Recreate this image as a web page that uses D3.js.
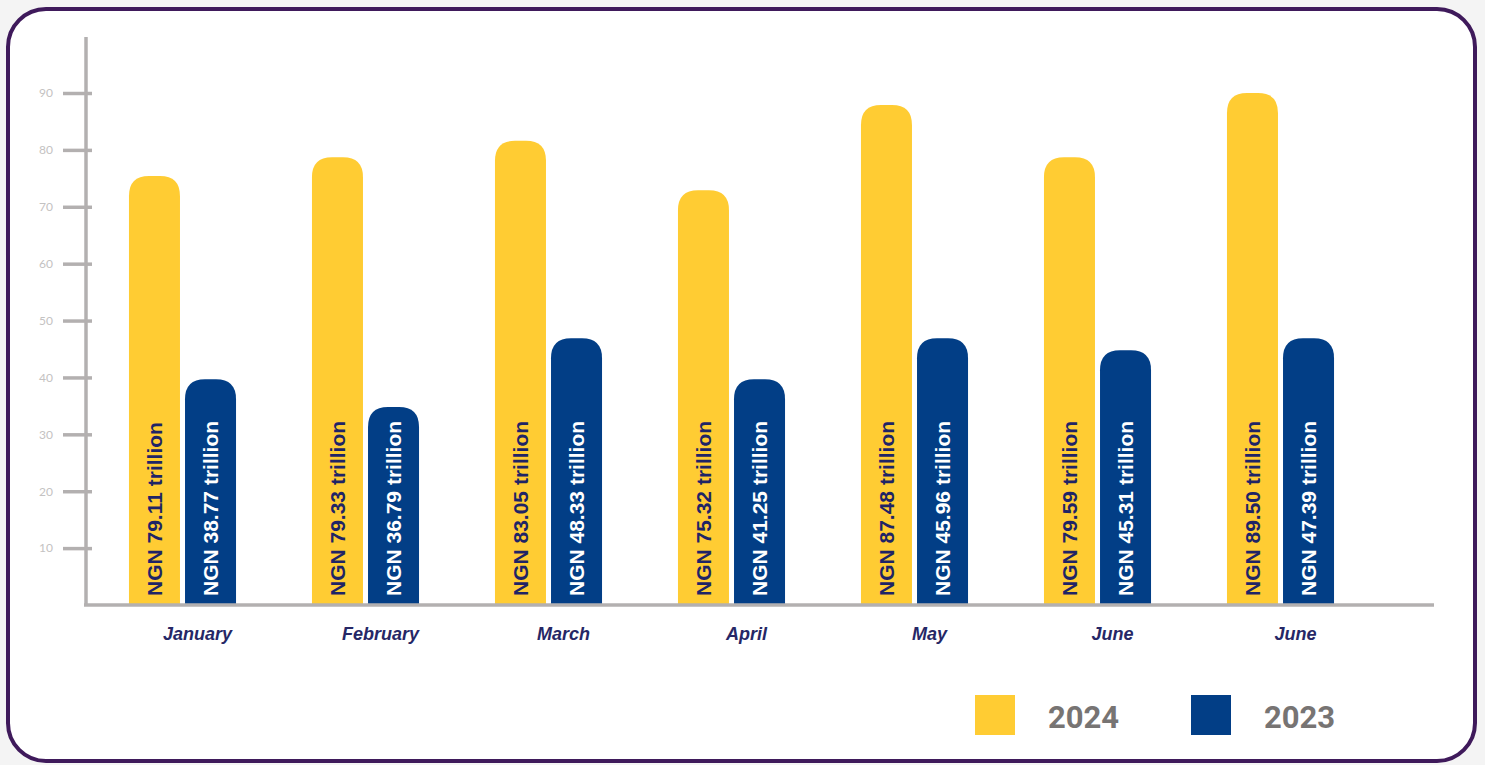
<!DOCTYPE html>
<html>
<head>
<meta charset="utf-8">
<script src="https://cdn.jsdelivr.net/npm/d3@7"></script>
<style>
  html, body { margin: 0; padding: 0; background: #f4f4f4; }
  svg { display: block; }
</style>
</head>
<body>
<div class="chart"></div>
<script>
// months (the source repeats "June" for the last group)
const months = ["January", "February", "March", "April", "May", "June", "June"];
const series = ["2024", "2023"];
// bar heights as drawn in the picture
const values2024 = [75.4, 78.7, 81.6, 72.9, 87.9, 78.7, 90.0];
const values2023 = [39.7, 34.8, 46.9, 39.7, 46.9, 44.8, 46.9];
// labels printed inside the bars
const labels2024 = ["NGN 79.11 trillion", "NGN 79.33 trillion", "NGN 83.05 trillion", "NGN 75.32 trillion", "NGN 87.48 trillion", "NGN 79.59 trillion", "NGN 89.50 trillion"];
const labels2023 = ["NGN 38.77 trillion", "NGN 36.79 trillion", "NGN 48.33 trillion", "NGN 41.25 trillion", "NGN 45.96 trillion", "NGN 45.31 trillion", "NGN 47.39 trillion"];
const yTicks = [10, 20, 30, 40, 50, 60, 70, 80, 90];

const width = 1485, height = 765;
const colors = {"2024": "#ffcc33", "2023": "#023e86"};
const textColors = {"2024": "#1f2466", "2023": "#ffffff"};

const svg = d3.select(".chart").append("svg")
  .attr("width", width)
  .attr("height", height);

// card
svg.append("rect")
  .attr("x", 8).attr("y", 9)
  .attr("width", 1467).attr("height", 752)
  .attr("rx", 38).attr("ry", 38)
  .attr("fill", "#ffffff")
  .attr("stroke", "#3f1a5b")
  .attr("stroke-width", 4);

const y = d3.scaleLinear().domain([0, 90]).range([605, 93]);

const x0 = d3.scaleBand()
  .domain(d3.range(months.length))
  .range([91, 1372])
  .paddingInner(0.415)
  .paddingOuter(0.2075);

const x1 = d3.scaleBand()
  .domain(series)
  .range([0, x0.bandwidth()])
  .paddingInner(0.09);

const axisColor = "#b3b0b0";

// y axis
const yAxis = svg.append("g")
  .attr("transform", "translate(86,0)")
  .call(d3.axisLeft(y).tickValues(yTicks).tickSize(23).tickPadding(10));
yAxis.select(".domain").remove();
yAxis.selectAll(".tick line")
  .attr("x2", 6)
  .attr("x1", -23)
  .attr("stroke", axisColor)
  .attr("stroke-width", 3.5);
yAxis.selectAll(".tick text")
  .attr("x", -33)
  .attr("fill", "#c4c2c2")
  .attr("font-family", "Lato, 'Open Sans', sans-serif")
  .attr("font-size", 12);

svg.append("line")
  .attr("x1", 86).attr("x2", 86)
  .attr("y1", 37).attr("y2", 606)
  .attr("stroke", axisColor).attr("stroke-width", 3.5);

// rows of grouped data
const rows = months.map((m, i) => ({
  i: i,
  month: m,
  bars: [
    {key: "2024", value: values2024[i], label: labels2024[i]},
    {key: "2023", value: values2023[i], label: labels2023[i]}
  ]
}));

function topRounded(x, yTop, w, yBase, r) {
  r = Math.min(r, w / 2, yBase - yTop);
  return `M${x},${yBase} L${x},${yTop + r} Q${x},${yTop} ${x + r},${yTop} ` +
    `L${x + w - r},${yTop} Q${x + w},${yTop} ${x + w},${yTop + r} L${x + w},${yBase} Z`;
}

const groups = svg.selectAll(".group")
  .data(rows)
  .enter()
  .append("g")
  .attr("class", "group")
  .attr("transform", d => `translate(${x0(d.i)},0)`);

groups.selectAll("path")
  .data(d => d.bars)
  .enter()
  .append("path")
  .attr("d", d => topRounded(x1(d.key), y(d.value), x1.bandwidth(), y(0), 20))
  .attr("fill", d => colors[d.key]);

groups.selectAll("text.val")
  .data(d => d.bars)
  .enter()
  .append("text")
  .attr("class", "val")
  .attr("transform", d => `translate(${x1(d.key) + x1.bandwidth() / 2},596) rotate(-90)`)
  .attr("dy", "0.36em")
  .attr("fill", d => textColors[d.key])
  .attr("font-family", "'Liberation Sans', Arial, sans-serif")
  .attr("font-weight", "bold")
  .attr("font-size", 21)
  .text(d => d.label);

// x axis baseline
svg.append("line")
  .attr("x1", 84).attr("x2", 1434)
  .attr("y1", 605).attr("y2", 605)
  .attr("stroke", axisColor).attr("stroke-width", 3.5);

// month labels
svg.selectAll(".month")
  .data(rows)
  .enter()
  .append("text")
  .attr("class", "month")
  .attr("x", d => x0(d.i) + x0.bandwidth() / 2 + 15)
  .attr("y", 640)
  .attr("text-anchor", "middle")
  .attr("fill", "#262766")
  .attr("font-family", "'Liberation Sans', Arial, sans-serif")
  .attr("font-weight", "bold")
  .attr("font-style", "italic")
  .attr("font-size", 18)
  .text(d => d.month);

// legend
const legend = svg.selectAll(".legend")
  .data(series)
  .enter()
  .append("g")
  .attr("class", "legend")
  .attr("transform", (d, i) => `translate(${975 + i * 216},695)`);

legend.append("rect")
  .attr("width", 40).attr("height", 40)
  .attr("fill", d => colors[d]);

legend.append("text")
  .attr("x", 73)
  .attr("y", 33)
  .attr("fill", "#777473")
  .attr("font-family", "Roboto, sans-serif")
  .attr("font-weight", "bold")
  .attr("font-size", 31)
  .text(d => d);
</script>
</body>
</html>
